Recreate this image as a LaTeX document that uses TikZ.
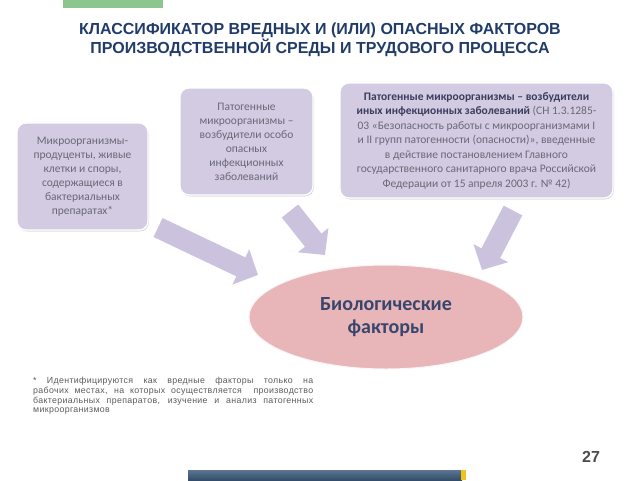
\documentclass[tikz,border=0pt]{standalone}
\usepackage{fontspec}
\setmainfont{Carlito}
\newfontfamily\arialfont{Liberation Sans}
\newfontfamily\notefont[LetterSpace=4]{Liberation Sans}
\usetikzlibrary{arrows.meta,shadows,shapes.geometric}

\definecolor{titleblue}{RGB}{34,60,106}
\definecolor{boxfill}{RGB}{211,203,226}
\definecolor{boxtext}{RGB}{105,105,118}
\definecolor{boldtext}{RGB}{58,60,92}
\definecolor{arrowfill}{RGB}{203,195,222}
\definecolor{ovalfill}{RGB}{232,182,185}
\definecolor{ovaltext}{RGB}{56,70,110}
\definecolor{topgreen}{RGB}{141,197,143}
\definecolor{bartop}{RGB}{92,118,146}
\definecolor{barbottom}{RGB}{50,78,104}
\definecolor{baryellow}{RGB}{242,195,24}
\definecolor{notegrey}{RGB}{90,90,90}

\tikzset{
  factorbox/.style={draw=white, line width=1.2pt, fill=boxfill, rounded corners=9pt,
    align=center, text=boxtext, inner sep=0pt,
    font=\fontsize{11.5}{14}\selectfont,
    drop shadow={shadow xshift=1pt, shadow yshift=-1.5pt, opacity=0.25}},
  blockarrow/.style={line width=21pt, draw=arrowfill, -{Triangle[width=38pt,length=19pt]}}
}

\begin{document}
\begin{tikzpicture}[x=1pt, y=-1pt]
\useasboundingbox (0,0) rectangle (640,480);

% top strip and title
\fill[topgreen] (63,0) rectangle (163,8);
\node[font=\arialfont\bfseries\fontsize{16}{17}\selectfont, text=titleblue, align=center] (title) at (320,40)
  {КЛАССИФИКАТОР ВРЕДНЫХ И (ИЛИ) ОПАСНЫХ ФАКТОРОВ\\ПРОИЗВОДСТВЕННОЙ СРЕДЫ И ТРУДОВОГО ПРОЦЕССА};

% central oval
\node[ellipse, draw=white!85!ovalfill, line width=1pt, fill=ovalfill, minimum width=274pt, minimum height=104pt,
  font=\bfseries\fontsize{20}{23}\selectfont, text=ovaltext, align=center] (bio) at (386,317)
  {Биологические\\факторы};

% source boxes
\node[factorbox, minimum width=131pt, minimum height=107pt] (micro) at (82.5,176.5)
  {Микроорганизмы-\\продуценты, живые\\клетки и споры,\\содержащиеся в\\бактериальных\\препаратах*};
\node[factorbox, minimum width=133pt, minimum height=107pt] (danger) at (246.5,141.5)
  {Патогенные\\микроорганизмы –\\возбудители особо\\опасных\\инфекционных\\заболеваний};
\node[factorbox, minimum width=273pt, minimum height=115pt, font=\fontsize{11.5}{14.5}\selectfont] (other) at (476.5,140.5)
  {\textcolor{boldtext}{\bfseries Патогенные микроорганизмы – возбудители}\\
   \textcolor{boldtext}{\bfseries иных инфекционных заболеваний} (СН 1.3.1285-\\
   03 «Безопасность работы с микроорганизмами I\\
   и II групп патогенности (опасности)», введенные\\
   в действие постановлением Главного\\
   государственного санитарного врача Российской\\
   Федерации от 15 апреля 2003 г. № 42)};

% arrows into the oval
\coordinate (t1) at (158,227.5);
\coordinate (h1) at (258,275);
\coordinate (t2) at (290,211);
\coordinate (h2) at (325,255);
\coordinate (t3) at (513,210.5);
\coordinate (h3) at (482,270);
\draw[blockarrow] (t1) -- (h1); %micro-bio
\draw[blockarrow] (t2) -- (h2); %danger-bio
\draw[blockarrow] (t3) -- (h3); %other-bio

% footnote
\node[anchor=north west, text width=280pt, align=justify, inner sep=0pt, text=notegrey,
  font=\notefont\fontsize{8.8}{9.8}\selectfont] (note) at (33,377)
  {* Идентифицируются как вредные факторы только на\linebreak
   рабочих местах, на которых осуществляется \ производство\linebreak
   бактериальных препаратов, изучение и анализ патогенных\linebreak
   микроорганизмов};

% page number and bottom bar
\node[font=\arialfont\bfseries\fontsize{16}{18}\selectfont, text=black!70] (page) at (591,457) {27};
\shade[top color=bartop, bottom color=barbottom] (188,470) rectangle (462,480);
\fill[baryellow] (461,470) rectangle (466,480);

\end{tikzpicture}
\end{document}
